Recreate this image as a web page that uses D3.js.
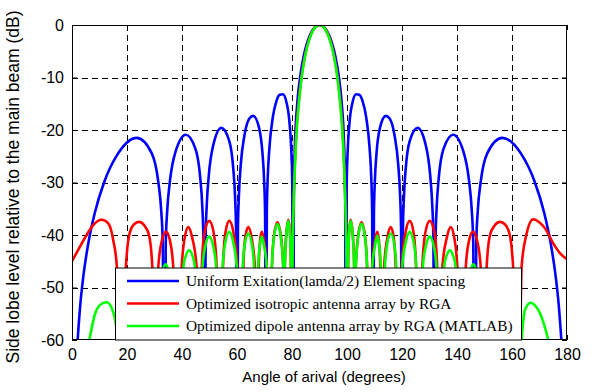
<!DOCTYPE html>
<html>
<head>
<meta charset="utf-8">
<script src="https://cdn.jsdelivr.net/npm/d3@7"></script>
<style>
  html, body { margin: 0; padding: 0; background: #fff; }
  svg { display: block; }
  .tick-label { font-family: "Liberation Sans", Arial, sans-serif; font-size: 16px; fill: #000; }
  .axis-title { font-family: "Liberation Sans", Arial, sans-serif; font-size: 15px; fill: #000; }
  .y-title { font-size: 17.5px; }
  .legend-text { font-family: "Liberation Serif", "Times New Roman", serif; font-size: 15.4px; fill: #000; }
</style>
</head>
<body>
<svg id="chart" width="593" height="392"></svg>
<script>
// Array factor of a 12-element linear array: angle of arrival (deg) vs. side lobe level (dB)
const xTicks = [0, 20, 40, 60, 80, 100, 120, 140, 160, 180];
const yTicks = [0, -10, -20, -30, -40, -50, -60];

const seriesNames = [
  "Uniform Exitation(lamda/2) Element spacing",
  "Optimized isotropic antenna array by RGA",
  "Optimized dipole antenna array by RGA (MATLAB)"
];
const seriesColors = ["#0000ff", "#ff0000", "#00ff00"];

// Uniform excitation, half-wavelength spacing
const uniformPattern = [
  [0,-90],[1.5,-65.5],[2.93,-53.8],[4.14,-47.8],[5.85,-41.8],[8.28,-35.8],[11.72,-29.9],[16.6,-24.6],
  [23.56,-21.5],[28.96,-24.4],[31.33,-29.7],[32.46,-35.5],[33.0,-41.5],[33.56,-90],
  [34.1,-41.4],[34.62,-35.4],[35.66,-29.5],[37.66,-24.1],[41.41,-20.9],[44.9,-23.6],[46.57,-28.8],
  [47.38,-34.6],[47.78,-40.6],[48.19,-90],
  [48.59,-40.5],[48.99,-34.4],[49.77,-28.5],[51.32,-23.0],[54.31,-19.6],[57.2,-22.1],[58.62,-27.2],
  [59.31,-32.9],[59.65,-38.8],[60,-90],
  [60.34,-38.7],[60.69,-32.5],[61.37,-26.6],[62.72,-21.0],[64.5,-17.8],[65.9,-17.3],[67.98,-19.5],
  [69.26,-24.4],[69.89,-30.0],[70.21,-35.9],[70.53,-90],
  [70.85,-35.6],[71.16,-29.3],[71.79,-23.4],[73.04,-17.5],[74.34,-14.5],[75.52,-13.3],[76.7,-13.2],
  [77.98,-14.7],[79.19,-19.2],[79.8,-24.6],[80.1,-30.3],[80.41,-90],
  [80.68,-30.8],[81.08,-22.5],[81.95,-14.7],[83.11,-9.3],[84.26,-5.9],[85.41,-3.56],[86.56,-1.92],
  [87.71,-0.83],[88.85,-0.21],[90,0],
  [91.15,-0.21],[92.29,-0.83],[93.44,-1.92],[94.59,-3.56],[95.74,-5.9],[96.89,-9.3],[98.05,-14.7],
  [98.92,-22.5],[99.32,-30.8],[99.59,-90],
  [99.9,-30.3],[100.2,-24.6],[100.81,-19.2],[102.02,-14.7],[103.3,-13.2],[104.48,-13.3],[105.66,-14.5],
  [106.96,-17.5],[108.21,-23.4],[108.84,-29.3],[109.15,-35.6],[109.47,-90],
  [109.79,-35.9],[110.11,-30.0],[110.74,-24.4],[112.02,-19.5],[114.1,-17.3],[115.5,-17.8],[117.28,-21.0],
  [118.63,-26.6],[119.31,-32.5],[119.66,-38.7],[120,-90],
  [120.35,-38.8],[120.69,-32.9],[121.38,-27.2],[122.8,-22.1],[125.69,-19.6],[128.68,-23.0],[130.23,-28.5],
  [131.01,-34.4],[131.41,-40.5],[131.81,-90],
  [132.22,-40.6],[132.62,-34.6],[133.43,-28.8],[135.1,-23.6],[138.59,-20.9],[142.34,-24.1],[144.34,-29.5],
  [145.38,-35.4],[145.9,-41.4],[146.44,-90],
  [147.0,-41.5],[147.54,-35.5],[148.67,-29.7],[151.04,-24.4],[156.44,-21.5],[163.4,-24.6],[168.28,-29.9],
  [171.72,-35.8],[174.15,-41.8],[175.86,-47.8],[177.07,-53.8],[178.5,-65.5],[180,-90]
];

// RGA-optimized isotropic array
const isotropicPattern = [
  [0,-45],[2.9,-42.2],[5.3,-40],[7.7,-38.1],[10.8,-37.1],[13.2,-37.8],[15,-41],[16.3,-46],[17.6,-75],
  [19.6,-46],[20.8,-40],[22.5,-38],[24.4,-37.5],[26.3,-38.2],[28,-40],[29.2,-46],[30.3,-75],
  [31.4,-46],[32.7,-41],[34.2,-39.4],[35.6,-41],[36.8,-46],[38.3,-75],
  [39.9,-46],[41,-40.5],[42.3,-38.5],[43.7,-40.5],[45.3,-46],[46.3,-75],
  [47.2,-46],[48.2,-39.5],[49.9,-37.3],[51.5,-39.5],[52.6,-46],[53.8,-75],
  [54.9,-46],[55.8,-39.5],[57.2,-37.3],[58.7,-39.5],[60.1,-46],[61.2,-75],
  [62.3,-46],[63.0,-40.5],[64.1,-38.5],[65.3,-40.5],[66.5,-46],[67.2,-75],
  [67.9,-46],[68.4,-41],[69.0,-39.4],[69.8,-41],[70.8,-46],[71.8,-75],
  [72.7,-46],[73.5,-40],[74.7,-37.6],[75.9,-40],[76.8,-46],[77.1,-75],
  [77.4,-46],[77.9,-40],[78.7,-37.1],[79.3,-40],[79.6,-46],[79.85,-75],
  [80.1,-45],[80.5,-35],[81.0,-27],[81.6,-20],[82.4,-14.8],[83.4,-10],[84.5,-6.4],[85.5,-4],
  [86.5,-2.3],[87.5,-1.1],[88.75,-0.3],[90,0],
  [91.25,-0.3],[92.5,-1.1],[93.5,-2.3],[94.5,-4],[95.5,-6.4],[96.6,-10],[97.6,-14.8],[98.4,-20],
  [99.0,-27],[99.5,-35],[99.9,-45],
  [100.15,-75],[100.4,-46],[100.7,-40],[101.3,-37.1],[102.1,-40],[102.6,-46],[102.9,-75],
  [103.2,-46],[104.1,-40],[105.3,-37.6],[106.5,-40],[107.3,-46],[108.2,-75],
  [109.2,-46],[110.2,-41],[111.0,-39.4],[111.6,-41],[112.1,-46],[112.8,-75],
  [113.5,-46],[114.7,-40.5],[115.9,-38.5],[117.0,-40.5],[117.7,-46],[118.8,-75],
  [119.9,-46],[121.3,-39.5],[122.8,-37.3],[124.2,-39.5],[125.1,-46],[126.2,-75],
  [127.4,-46],[128.5,-39.5],[130.1,-37.3],[131.8,-39.5],[132.8,-46],[133.7,-75],
  [134.7,-46],[136.3,-40.5],[137.7,-38.5],[139,-40.5],[140.1,-46],[141.7,-75],
  [143.2,-46],[144.4,-41],[145.8,-39.4],[147.3,-41],[148.6,-46],[149.7,-75],
  [150.8,-46],[152,-40],[153.7,-38.2],[155.6,-37.5],[157.5,-38],[159.2,-40],[160.4,-46],[162.4,-75],
  [163.5,-46],[165.2,-40],[167.7,-37],[170,-37.6],[172,-38.7],[175,-41.6],[177.5,-43.5],[180,-44.6]
];

// RGA-optimized dipole array
const dipolePattern = [
  [0,-80],[3,-70],[6.3,-60],[8.4,-55],[10.5,-53.2],[12.6,-52.8],[14.5,-54],[15.6,-56],[17,-62],[18,-75],
  [19.8,-56],[21.5,-51],[24.4,-49.5],[27,-51],[29,-56],[30.3,-75],
  [31.8,-52],[33,-47],[34.0,-45.6],[35.1,-47],[36.3,-52],[38.3,-75],
  [40.5,-46],[41.5,-43.8],[42.6,-42.9],[43.7,-43.8],[44.7,-46],[46.3,-75],
  [47.5,-46],[48.5,-42],[49.9,-40.3],[51.3,-42],[52.4,-46],[53.8,-75],
  [54.8,-46],[55.8,-41.3],[57.2,-39.4],[58.6,-41.3],[59.9,-46],[61.2,-75],
  [62.1,-46],[62.9,-41.5],[64.1,-39.7],[65.3,-41.5],[66.2,-46],[67.2,-75],
  [67.7,-46],[68.3,-42],[69.0,-40.3],[69.8,-42],[70.8,-46],[71.8,-75],
  [72.7,-46],[73.5,-40.3],[74.7,-37.9],[75.9,-40.3],[76.8,-46],[77.1,-75],
  [77.4,-46],[77.9,-40.2],[78.7,-37.3],[79.3,-40.2],[79.6,-46],[79.9,-75],
  [80.2,-45],[80.55,-35],[81.05,-27],[81.7,-20],[82.5,-14.8],[83.5,-10],[84.6,-6.4],[85.6,-4],
  [86.6,-2.3],[87.6,-1.1],[88.8,-0.3],[90,0],
  [91.2,-0.3],[92.4,-1.1],[93.4,-2.3],[94.4,-4],[95.4,-6.4],[96.5,-10],[97.5,-14.8],[98.3,-20],
  [98.95,-27],[99.45,-35],[99.8,-45],
  [100.1,-75],[100.4,-46],[100.7,-40.2],[101.3,-37.3],[102.1,-40.2],[102.6,-46],[102.9,-75],
  [103.2,-46],[104.1,-40.3],[105.3,-37.8],[106.5,-40.3],[107.3,-46],[108.2,-75],
  [109.2,-46],[110.2,-42],[111.0,-40.1],[111.7,-42],[112.3,-46],[112.8,-75],
  [113.8,-46],[114.7,-41.5],[115.9,-39.7],[117.1,-41.5],[117.9,-46],[118.8,-75],
  [120.1,-46],[121.4,-41.3],[122.8,-39.4],[124.2,-41.3],[125.2,-46],[126.2,-75],
  [127.6,-46],[128.7,-42],[130.1,-40.3],[131.5,-42],[132.5,-46],[133.7,-75],
  [135.3,-46],[136.3,-43.8],[137.4,-42.9],[138.5,-43.8],[139.5,-46],[141.7,-75],
  [143.7,-52],[144.9,-47],[146,-45.6],[147,-47],[148.2,-52],[149.7,-75],
  [151,-56],[153,-51],[155.6,-49.5],[158.5,-51],[160.2,-56],[162,-75],
  [163.5,-60],[164.7,-54.3],[166.8,-52.9],[168.5,-53.5],[170.2,-54.9],[173.2,-60],[177,-70],[180,-80]
];

const patterns = [uniformPattern, isotropicPattern, dipolePattern];

const svg = d3.select("#chart");
const plot = { left: 72, right: 567, top: 25, bottom: 340 };

const x = d3.scaleLinear().domain([0, 180]).range([plot.left, plot.right]);
const y = d3.scaleLinear().domain([-60, 0]).range([plot.bottom, plot.top]);

svg.append("defs").append("clipPath").attr("id", "plot-clip")
  .append("rect")
  .attr("x", plot.left).attr("y", plot.top)
  .attr("width", plot.right - plot.left).attr("height", plot.bottom - plot.top);

// dashed grid
const grid = svg.append("g").attr("class", "grid");
grid.selectAll("line.vgrid").data(xTicks.slice(1, -1)).join("line")
  .attr("x1", d => Math.round(x(d)) + 0.5).attr("x2", d => Math.round(x(d)) + 0.5)
  .attr("y1", plot.top).attr("y2", plot.bottom)
  .attr("stroke", "#000").attr("stroke-width", 1).attr("stroke-dasharray", "6,4");
grid.selectAll("line.hgrid").data(yTicks.slice(1, -1)).join("line")
  .attr("y1", d => Math.round(y(d)) + 0.5).attr("y2", d => Math.round(y(d)) + 0.5)
  .attr("x1", plot.left).attr("x2", plot.right)
  .attr("stroke", "#000").attr("stroke-width", 1).attr("stroke-dasharray", "6,4");

// pattern curves
const line = d3.line()
  .x(d => x(d[0]))
  .y(d => y(d[1]))
  .curve(d3.curveMonotoneX);

const curves = svg.append("g").attr("clip-path", "url(#plot-clip)");
patterns.forEach((p, i) => {
  curves.append("path")
    .datum(p)
    .attr("d", line)
    .attr("fill", "none")
    .attr("stroke", seriesColors[i])
    .attr("stroke-width", 2.6)
    .attr("stroke-linejoin", "round");
});

// axes (ticks inward on all four sides)
const tickLen = 5;
const axisBottom = d3.axisBottom(x).tickValues(xTicks).tickSize(-tickLen).tickPadding(9).tickFormat(d3.format("d"));
const axisTop = d3.axisTop(x).tickValues(xTicks).tickSize(-tickLen).tickFormat("");
const axisLeft = d3.axisLeft(y).tickValues(yTicks).tickSize(-tickLen).tickPadding(8).tickFormat(d => d === 0 ? "0" : String(d));
const axisRight = d3.axisRight(y).tickValues(yTicks).tickSize(-tickLen).tickFormat("");

function styleAxis(g) {
  g.select(".domain").remove();
  g.selectAll(".tick line").attr("stroke", "#000");
  g.selectAll(".tick text").attr("class", "tick-label").attr("fill", "#000").style("font-family", null).style("font-size", null);
  g.attr("font-family", null).attr("font-size", null);
}

svg.append("g").attr("transform", `translate(0,${plot.bottom})`).call(axisBottom).call(styleAxis);
svg.append("g").attr("transform", `translate(0,${plot.top})`).call(axisTop).call(styleAxis);
svg.append("g").attr("transform", `translate(${plot.left},0)`).call(axisLeft).call(styleAxis);
svg.append("g").attr("transform", `translate(${plot.right},0)`).call(axisRight).call(styleAxis);

// axes box
svg.append("rect")
  .attr("x", plot.left + 0.5).attr("y", plot.top + 0.5)
  .attr("width", plot.right - plot.left - 1).attr("height", plot.bottom - plot.top - 1)
  .attr("fill", "none").attr("stroke", "#000").attr("stroke-width", 1);

// axis titles
svg.append("text").attr("class", "axis-title")
  .attr("x", 324).attr("y", 382)
  .attr("text-anchor", "middle")
  .text("Angle of arival (degrees)");
svg.append("text").attr("class", "axis-title y-title")
  .attr("transform", `translate(19,187) rotate(-90)`)
  .attr("text-anchor", "middle")
  .text("Side lobe level relative to the main beam (dB)");

// legend
const legend = svg.append("g").attr("class", "legend");
const lg = { x: 115, y: 267.5, w: 406, h: 72 };
legend.append("rect")
  .attr("x", lg.x + 0.5).attr("y", lg.y + 0.5)
  .attr("width", lg.w).attr("height", lg.h)
  .attr("fill", "#fff").attr("stroke", "#000").attr("stroke-width", 1);
const rowY = [281, 303.5, 326];
seriesNames.forEach((name, i) => {
  legend.append("line")
    .attr("x1", 127).attr("x2", 179)
    .attr("y1", rowY[i]).attr("y2", rowY[i])
    .attr("stroke", seriesColors[i]).attr("stroke-width", 2.6);
  legend.append("text").attr("class", "legend-text")
    .attr("x", 186).attr("y", rowY[i] + 5)
    .text(name);
});
</script>
</body>
</html>
